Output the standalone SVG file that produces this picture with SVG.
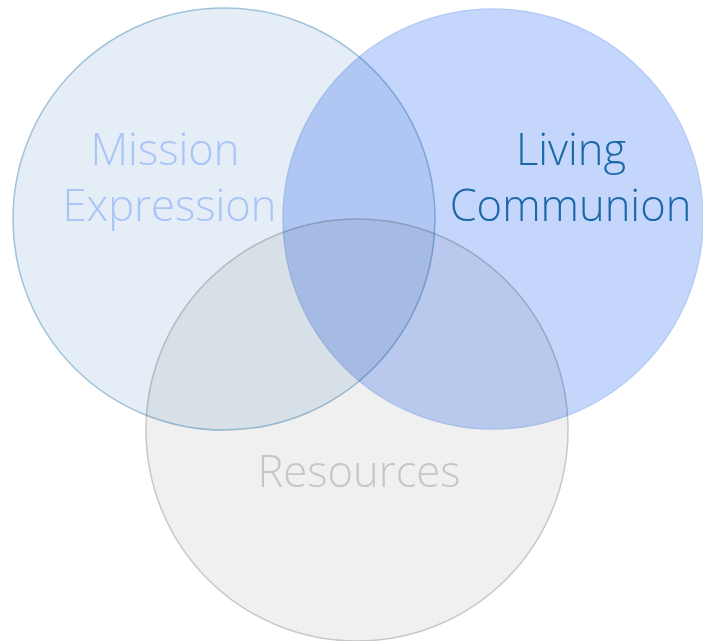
<svg xmlns="http://www.w3.org/2000/svg" width="703" height="641" viewBox="0 0 703 641">
<style>
.c{mix-blend-mode:multiply;stroke-width:1.5}
.t{font-family:"Open Sans","Noto Sans","DejaVu Sans",sans-serif;font-weight:300;font-size:43.5px;text-anchor:middle}
</style>
<rect width="703" height="641" fill="#ffffff"/>
<g id="mission">
<circle class="c" cx="224" cy="219" r="211" fill="#E5EDF6" stroke="#A0C3DB"/>
</g>
<g id="living">
<circle class="c" cx="493" cy="219" r="210" fill="#C4D6FC" stroke="#B5CCF6"/>
</g>
<g id="resources">
<circle class="c" cx="357" cy="430" r="211" fill="#F0F0F0" stroke="#C8C8C8"/>
</g>
<g id="labels">
<text class="t" x="165" y="165" fill="#A9C5F7">Mission</text>
<text class="t" x="169.5" y="221" fill="#A9C5F7">Expression</text>
<text class="t" x="571" y="165" fill="#1C67A6">Living</text>
<text class="t" x="570.5" y="221" fill="#1C67A6">Communion</text>
<text class="t" x="359" y="487" fill="#C6C6C6">Resources</text>
</g>
</svg>
